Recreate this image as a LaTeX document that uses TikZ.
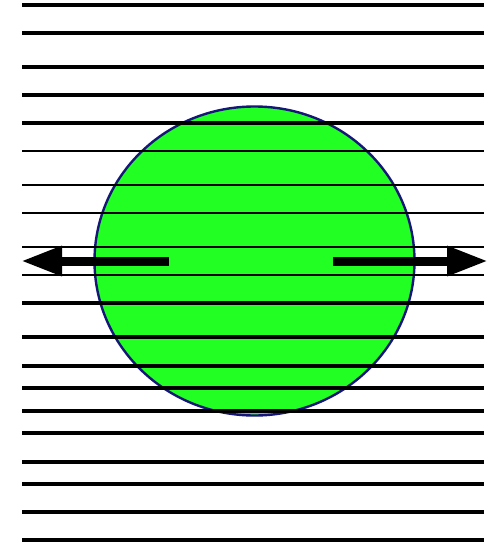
\documentclass[tikz,border=0pt]{standalone}
\usepackage{xcolor}
\usepackage{tikz}
\usetikzlibrary{arrows.meta}
\definecolor{ballgreen}{RGB}{34,255,34}
\definecolor{ballnavy}{RGB}{22,22,120}
\tikzset{
  ball/.style={draw=ballnavy,line width=2.4pt,fill=ballgreen},
  rule/.style={draw=black,line width=3.1pt},
  thinrule/.style={draw=black,line width=2.3pt},
  push/.style={-{Triangle[length=41pt,width=28pt]},draw=black,line width=9pt}
}
\begin{document}
\begin{tikzpicture}[x=1pt,y=-1pt]
  \useasboundingbox (0,0) rectangle (493,544);
  \filldraw[ball] (254.5,261) ellipse [x radius=160pt,y radius=154.5pt];
  % horizontal rules
  \foreach \y in {5,33,67,95,123,303,337,366,388,411,433,462,484,512,540}
    \draw[rule] (22,\y) -- (484,\y);
  \foreach \y in {151,185,213,247,275}
    \draw[thinrule] (22,\y) -- (484,\y);
  \coordinate (lstart) at (169,261);
  \coordinate (ltip) at (21,261);
  \coordinate (rstart) at (333,261);
  \coordinate (rtip) at (488,261);
  \draw[push] (lstart) -- (ltip);
  \draw[push] (rstart) -- (rtip);
\end{tikzpicture}
\end{document}
